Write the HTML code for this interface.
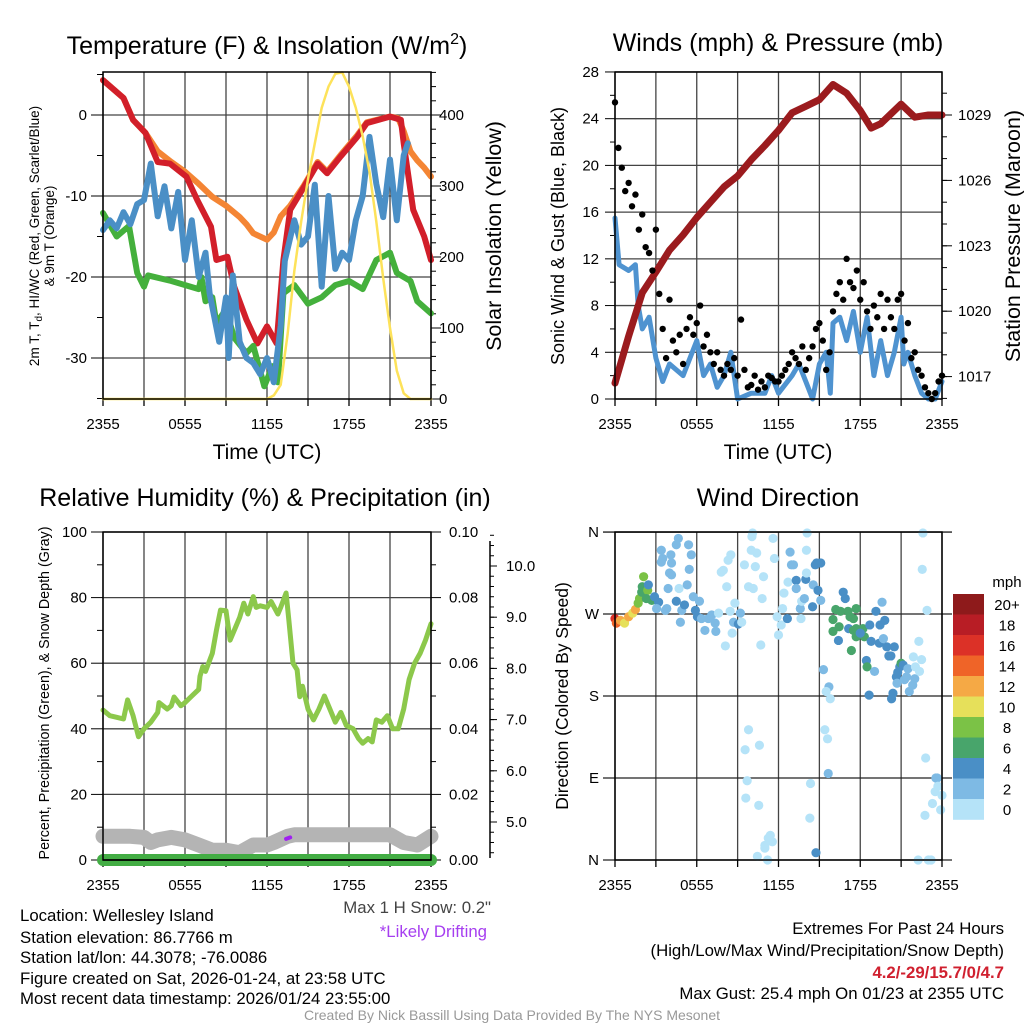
<!DOCTYPE html>
<html><head><meta charset="utf-8"><style>
html,body{margin:0;padding:0;background:#fff;}
svg{display:block;font-family:"Liberation Sans",Arial,sans-serif;}
</style></head><body>
<svg id="fig" width="1024" height="1024" viewBox="0 0 1024 1024" xmlns="http://www.w3.org/2000/svg">
<rect x="0" y="0" width="1024" height="1024" fill="#fff"/>
<g font-size="25" text-anchor="middle" fill="#000">
<text x="267" y="54">Temperature (F) &amp; Insolation (W/m<tspan font-size="16" dy="-10">2</tspan><tspan dy="10">)</tspan></text>
<text x="778" y="51">Winds (mph) &amp; Pressure (mb)</text>
<text x="265" y="506">Relative Humidity (%) &amp; Precipitation (in)</text>
<text x="778" y="506">Wind Direction</text>
</g>
<g font-size="21" text-anchor="middle">
<text x="267" y="459">Time (UTC)</text>
<text x="778" y="459">Time (UTC)</text>
<text font-size="21.5" transform="translate(501,236) rotate(-90)">Solar Insolation (Yellow)</text>
<text font-size="21.5" transform="translate(1020,236) rotate(-90)">Station Pressure (Maroon)</text>
</g>
<text transform="translate(564,236) rotate(-90)" font-size="18" text-anchor="middle">Sonic Wind &amp; Gust (Blue, Black)</text>
<text transform="translate(568,696) rotate(-90)" font-size="17.5" text-anchor="middle">Direction (Colored By Speed)</text>
<text transform="translate(39,236) rotate(-90)" font-size="13.5" text-anchor="middle">2m T, T<tspan font-size="10" dy="3">d</tspan><tspan dy="-3">, HI/WC (Red, Green, Scarlet/Blue)</tspan></text>
<text transform="translate(54,236) rotate(-90)" font-size="13.5" text-anchor="middle">&amp; 9m T (Orange)</text>
<text transform="translate(49,693) rotate(-90)" font-size="14.3" text-anchor="middle">Percent, Precipitation (Green), &amp; Snow Depth (Gray)</text>
<g font-size="16.8" fill="#000">
<text x="20" y="921">Location: Wellesley Island</text>
<text x="20" y="943">Station elevation: 86.7766 m</text>
<text x="20" y="963">Station lat/lon: 44.3078; -76.0086</text>
<text x="20" y="984">Figure created on Sat, 2026-01-24, at 23:58 UTC</text>
<text x="20" y="1004">Most recent data timestamp: 2026/01/24 23:55:00</text>
<text x="491" y="913" text-anchor="end" fill="#444">Max 1 H Snow: 0.2"</text>
<text x="487" y="937" text-anchor="end" fill="#a63ef0">*Likely Drifting</text>
<text x="1004" y="934" text-anchor="end">Extremes For Past 24 Hours</text>
<text x="1004" y="956" text-anchor="end">(High/Low/Max Wind/Precipitation/Snow Depth)</text>
<text x="1004" y="978" text-anchor="end" fill="#d0202f" font-weight="bold">4.2/-29/15.7/0/4.7</text>
<text x="1004" y="999" text-anchor="end">Max Gust: 25.4 mph On 01/23 at 2355 UTC</text>
</g>
<text x="512" y="1020" font-size="14" fill="#999" text-anchor="middle">Created By Nick Bassill Using Data Provided By The NYS Mesonet</text>
<g id="charts"></g>
</svg>
<script>
// ---- Panel 1 data ----
const redT=[0,1.5,2.2,3.1,4,4.9,6.1,6.9,7.9,8.3,9.1,9.6,10.5,11.3,12,12.7,13.2,13.7,14.7,15.7,16.4,17.4,18.6,19.3,21,21.8,22,22.7,23.5,24];
const redV=[4.3,2.1,-0.6,-2.2,-5.8,-6,-7.6,-10.5,-13.8,-17.9,-17.5,-21.2,-25.3,-28.2,-26.1,-28.2,-17.9,-11.7,-8.9,-6,-7.2,-5.1,-2.7,-1,-0.2,-0.6,-3.5,-11.7,-15,-17.9];
const orgT=[0,1.5,2.2,3.1,4,5,6,7,8,9,10,10.5,11,12,12.5,13,13.7,14.7,15.7,16.4,17.4,18.6,19.3,21,21.6,22,22.5,23,23.5,24];
const orgV=[4.3,2.1,-0.6,-2.2,-4.5,-5.8,-7,-8.5,-10.1,-11.2,-12.6,-13.5,-14.6,-15.4,-14.5,-12.5,-11.2,-8.7,-5.8,-7,-4.9,-2.5,-0.9,-0.2,-0.4,-2,-4.5,-5.6,-6.5,-7.6];
const grnT=[0,1,1.9,2.5,3,3.3,5,7,7.2,7.5,8,8.3,9,9.6,10.5,11,11.8,12.4,12.8,13.2,14,15,16,17,18,19,20,21,21.5,22.5,23,24];
const grnV=[-12.1,-15,-13.7,-19.5,-21.2,-19.8,-20.5,-21.5,-20,-23,-22.5,-25.7,-24,-27.5,-29.4,-28.5,-33.5,-31,-33,-22,-21,-23.3,-22.5,-21,-20.5,-21.5,-17.9,-17,-19.5,-20.5,-23,-24.5];
const bluT=[0,0.5,1,1.5,2,2.5,3,3.5,4,4.5,5,5.5,6,6.5,7,7.5,7.8,8.5,9,9.2,9.5,10,10.5,11,11.5,12,12.5,13,13.3,14,14.5,15,15.5,16,16.5,17,17.5,18,18.5,19,19.5,20,20.5,21,21.5,22,22.3];
const bluV=[-14.2,-13,-14,-12,-13.5,-11,-10.5,-6,-12.5,-8.8,-14,-9.5,-17.9,-13,-20,-17,-22,-28,-22.5,-30,-19.8,-28,-30,-30.6,-32,-30,-33,-26,-18,-13,-16,-15,-8.6,-21.2,-10,-19,-17,-17.9,-13,-10,-2.7,-8.5,-12.6,-5.5,-13,-5,-3.5];
const solT=[0,12,12.5,13,13.5,14,14.5,15,15.5,16,16.5,17,17.5,18,18.5,19,19.5,20,20.5,21,21.5,22,22.5,24];
const solV=[0,0,5,20,90,180,250,310,360,410,440,458,460,440,410,370,320,250,170,100,40,8,0,0];
const tempTicks=[0,-10,-20,-30];
const solTicks=[0,100,200,300,400];
const timeLabels=["2355","0555","1155","1755","2355"];
// ---- Panel 2 data ----
const presT=[0,1,2,3,4,5,6,7,8,9,10,11,12,13,14,15,16,17,18,18.8,19.5,20,21,21.5,22,23,24];
const presV=[1016.7,1018.85,1020.85,1021.8,1022.8,1023.5,1024.3,1025,1025.7,1026.2,1026.95,1027.6,1028.3,1029.1,1029.4,1029.7,1030.4,1030,1029.2,1028.4,1028.6,1028.9,1029.5,1029.2,1028.9,1029,1029];
const windT=[0,0.3,1,1.5,1.7,2,2.5,3,3.5,4,5,6,6.5,7,7.5,8,8.5,9,10,11,11.5,12,13,13.5,14,14.5,15,15.5,15.8,16,16.5,17,17.5,18,18.5,19,19.5,20,20.5,21,21.2,21.5,22,22.5,23,23.5,24];
const windV=[15.5,11.5,11,11.5,8,6,7,3.5,1.5,3,2,5,2,3,1,2,4,0,0.5,0.5,2,0.5,2,3,1.5,0,3,4,0.5,6.5,7,5,7.5,4,7,2,5,2,4,7,3,4,2,0.5,0,0,1.5];
const gustV=[25.4,21.5,19.8,17.8,18.5,16.5,17.5,14.5,15.8,13,12.5,11,14.5,9,6,3.5,8.5,5,4,5.5,3,6,7,5.5,6.5,8,4.5,5.5,4,3,4,2.5,2,3,2.5,3.5,2,6.8,2.5,1,1.2,2,0.8,1.5,1,2,1.8,1.5,1.5,2,2.5,3,4,3.5,3,4.5,2.5,3.5,4.5,6,6.5,5,2.5,4,7.5,9,10,8.5,12,10,9.5,11,8.5,10,7.5,6,8,7,9,6,8.5,7,6,8.5,9,5,6.5,3.5,4,2.5,2,1,0.5,0,0.5,1.5,2];
const windTicks=[0,4,8,12,16,20,24,28];
const presTicks=[1017,1020,1023,1026,1029];
// ---- Panel 3 data ----
const rhT=[0,0.5,1,1.5,1.8,2.2,2.6,3,3.5,4,4.1,4.7,5,5.2,5.7,6,6.5,7,7.1,7.3,7.5,8,8.3,8.6,9,9.3,9.7,10,10.3,10.6,11,11.2,11.5,12,12.3,12.8,13,13.4,13.6,13.9,14.2,14.4,14.6,15,15.4,15.8,16.2,16.6,17,17.4,17.8,18.3,18.7,19,19.4,19.7,20,20.4,20.8,21.2,21.6,22,22.4,22.8,23.2,23.6,24];
const rhV=[45.7,44,43.5,43,48.8,44,37.6,40,42,45,48,46,47,49.7,47,48,50,52,56,59,57.5,63,70,76.2,76,67,71,74,78.3,75,80.3,77,77.5,77,78.8,75,77,81.4,73,60,58,49.8,53,46,42.7,46,50,46,42,45,41,40,37,35.6,37,36,42.7,42,44,40,40,46,55,60,63,67,72];
const snowT=[0,1,2,3,3.5,4,5,6,7,8,9,10,11,12,12.5,13.5,14,15,16,17,18,19,20,21,22,23,24];
const snowV=[4.72,4.72,4.72,4.7,4.6,4.65,4.7,4.65,4.55,4.45,4.45,4.4,4.55,4.55,4.6,4.72,4.75,4.75,4.75,4.75,4.75,4.75,4.75,4.75,4.6,4.55,4.72];
const precT=[0,24];
const precV=[0,0];
const driftT=[13.4,13.7];
const driftV=[4.67,4.7];
const rhTicks=[0,20,40,60,80,100];
const precTicks=["0.00","0.02","0.04","0.06","0.08","0.10"];
const snowTicks=["5.0","6.0","7.0","8.0","9.0","10.0"];
// ---- Panel 4 data ----
const dirT=[0,0.1,0.4,0.7,1,1.3,1.5,1.7,1.8,2,2.1,1.96,2.4,2.3,2.7,2.45,2.9,3.2,3.05,3.4,3.5,3.4,3.7,3.8,4.1,4.15,4,4.15,3.9,4.5,4.65,4.5,4.7,4.9,4.8,5.1,5.3,5.4,5.6,5.45,5.75,5.9,6.05,6.2,6.35,6.6,6.85,7.1,7.35,7.4,7.6,7.8,7.95,8.3,8.5,8.2,8.45,8.7,8.8,9.05,9.2,9.3,8.6,8.1,9.5,9.8,10.15,10.3,10,10.1,10.05,10.4,10.8,10.9,10.7,11.6,11.7,11.9,12,12.2,12.3,12.4,12.65,12.7,12.85,12.95,13.1,13.3,13.3,13.6,13.65,13.7,13.9,14,14.05,14.1,14.05,14.5,14.55,14.7,14.8,14.9,15.1,15.1,15.3,15.7,15.5,15.8,15.4,15.6,15.65,14.75,14.35,14.3,9.8,10.6,9.55,9.7,9.6,10.55,11.4,11.25,11.55,11,11,10.45,11.2,16,16.2,16.45,16,16.4,16.75,16.9,16.55,17.1,17.25,17.5,17.7,17.15,17.5,17.7,17.35,17.7,18.2,18.3,18,18.45,18.5,18.7,18.8,19.05,19.15,19.4,19.45,19.6,19.7,19.8,19.95,20.1,20.25,20.4,20.5,20.65,20.7,20.75,20.9,21,21.15,21.25,21.4,21.5,21.6,21.85,21.9,22,22.05,22.3,22.35,22.5,18.65,20.3,22.6,22.55,22.9,22.8,23.55,23.65,23.7,23.5,24,23.3,22.75,23.9,22.25,23,23.2];
const dirV=[265,260,263,260,267,271,275,282,287,300,311,294,296,287,285,302,289,283,276,340,331,327,274,276,335,326,315,313,298,284,353,346,298,274,261,280,302,346,335,319,289,274,267,284,265,252,265,269,260,251,271,316,318,329,335,300,273,261,282,259,271,261,249,235,324,300,298,322,340,359,355,337,287,311,236,353,331,267,247,258,276,293,265,305,338,324,324,307,298,276,265,284,287,308,315,359,340,278,302,324,326,296,326,285,209,190,185,177,143,133,95,8,84,46,143,126,121,87,68,60,27,24,20,16,13,4,0,264,275,256,251,241,294,287,273,273,267,265,276,254,252,245,230,254,254,245,249,219,212,258,240,207,273,238,258,283,243,263,234,224,224,183,234,201,194,206,212,216,214,198,201,210,185,192,223,199,212,240,207,220,181,177,359,319,274,112,90,90,81,75,71,62,49,55,0,0,0];
const dirS=[17,15,13,11,13,11,13,9,9,7,9,7,9,7,7,5,5,5,3,3,3,3,3,3,3,3,3,3,3,5,3,3,1,3,3,5,3,3,3,3,3,5,5,3,3,3,3,3,3,3,1,1,1,1,1,1,1,3,1,5,3,1,1,1,1,1,1,1,1,1,1,1,1,1,1,1,1,1,1,1,1,1,5,1,3,3,3,5,3,3,1,1,3,5,1,1,1,5,3,5,5,5,5,3,3,3,1,1,1,1,3,5,1,1,1,1,1,1,1,1,1,1,1,1,1,1,1,7,7,7,7,5,5,5,7,7,7,7,7,5,7,7,7,7,7,7,5,5,7,5,5,3,5,5,5,3,3,5,5,5,5,5,5,5,3,5,5,7,5,3,3,3,3,3,1,3,1,1,1,1,5,5,1,1,1,1,3,3,1,1,1,1,1,1,1,1,1];
const dirTicks=["N","E","S","W","N"];
const speedLabels=["20+","18","16","14","12","10","8","6","4","2","0"];
const speedColors=["#b5e3f8","#7ebae4","#4a8fc6","#48a56b","#7bc246","#e6e05a","#f5a945","#ef6428","#dc3127","#b81d25","#8e1a1b"];

const NS="http://www.w3.org/2000/svg";
const root=document.getElementById('charts');
function mk(tag,attrs,name,parent){
  const el=document.createElementNS(NS,tag);
  for(const k in attrs) el.setAttribute(k,attrs[k]);
  
  
  (parent||root).appendChild(el);
  return el;
}
function txt(x,y,s,anchor,size,name,fill){
  const t=mk('text',{x:x,y:y,'text-anchor':anchor,'font-size':size,fill:fill||'#000'},name);
  t.textContent=s;return t;
}
function line(x1,y1,x2,y2,stroke,w,name){return mk('line',{x1:x1,y1:y1,x2:x2,y2:y2,stroke:stroke,'stroke-width':w},name);}
function poly(ts,vs,fx,fy,color,w,name){
  const pts=ts.map((t,i)=>fx(t).toFixed(1)+','+fy(vs[i]).toFixed(1)).join(' ');
  return mk('polyline',{points:pts,fill:'none',stroke:color,'stroke-width':w,'stroke-linejoin':'round','stroke-linecap':'round'},name);
}
const L=103,R=431,L2=615,R2=942;
function frame(x0,x1,y0,y1,prefix){
  for(let i=0;i<=8;i++){const x=x0+(x1-x0)*i/8;line(x,y0,x,y1,'#444',1.3,prefix+'-vgrid');line(x,y1,x,y1+7,'#000',1.3,prefix+'-xtick');}
  timeLabels.forEach((s,i)=>txt(x0+(x1-x0)*i/4,y1+30,s,'middle',15,prefix+'-xtick-label'));
}
function box(x0,x1,y0,y1,prefix){mk('rect',{x:x0,y:y0,width:x1-x0,height:y1-y0,fill:'none',stroke:'#000','stroke-width':1.5},prefix+'-plot-frame');}

// Panel 1
const x1f=t=>L+t*(R-L)/24, yT=v=>115-v*8.1, yS=s=>399-s*0.71;
frame(L,R,72,399,'temp');
tempTicks.forEach(v=>{line(L,yT(v),R,yT(v),'#444',1.3,'temp-hgrid');line(L-12,yT(v),L,yT(v),'#000',1,'temp-ytick');txt(L-16,yT(v)+5,String(v),'end',15,'temp-ytick-label');});
for(let v=-35;v<=5;v+=5){line(L-6,yT(v),L,yT(v),'#000',1,'temp-minor-tick');}
solTicks.forEach(v=>{line(R,yS(v),R+10,yS(v),'#000',1,'solar-ytick');txt(R+8,yS(v)+5,String(v),'start',15,'solar-ytick-label');});
for(let v=0;v<=460;v+=20){line(R,yS(v),R+5,yS(v),'#000',1,'solar-minor-tick');}
poly(orgT,orgV,x1f,yT,'#f48534',6,'series-9m-temp');
poly(redT,redV,x1f,yT,'#d21f2a',6,'series-2m-temp');
poly(grnT,grnV,x1f,yT,'#44b03c',6,'series-dewpoint');
poly(bluT,bluV,x1f,yT,'#4a8fc6',6,'series-windchill');
poly(solT,solV,x1f,yS,'#fde25a',2.5,'series-insolation');
box(L,R,72,399,'temp');

// Panel 2
const x2f=t=>L2+t*(R2-L2)/24, yW=w=>399-w*11.68, yP=p=>115-(p-1029)*21.8;
frame(L2,R2,72,399,'wind');
windTicks.forEach(v=>{line(L2,yW(v),R2,yW(v),'#444',1.3,'wind-hgrid');line(L2-10,yW(v),L2,yW(v),'#000',1,'wind-ytick');txt(L2-16,yW(v)+5,String(v),'end',15,'wind-ytick-label');});
for(let v=2;v<28;v+=4){line(L2-5,yW(v),L2,yW(v),'#000',1,'wind-minor-tick');}
presTicks.forEach(v=>{line(R2,yP(v),R2+10,yP(v),'#000',1,'pressure-ytick');txt(R2+16,yP(v)+5,String(v),'start',15,'pressure-ytick-label');});
for(let v=1016;v<=1030;v++){line(R2,yP(v),R2+5,yP(v),'#000',1,'pressure-minor-tick');}
poly(windT,windV,x2f,yW,'#4f93d0',5,'series-sonic-wind');
poly(presT,presV,x2f,yP,'#9b1b1e',7,'series-pressure');
gustV.forEach((g,i)=>{mk('circle',{cx:x2f(i*0.25),cy:yW(g),r:3.2,fill:'#000'},'gust-point');});
box(L2,R2,72,399,'wind');

// Panel 3
const yRH=r=>860-r*3.28, ySn=s=>822-(s-5)*51.2;
frame(L,R,532,860,'rh');
rhTicks.forEach(v=>{line(L,yRH(v),R,yRH(v),'#444',1.3,'rh-hgrid');line(L-12,yRH(v),L,yRH(v),'#000',1,'rh-ytick');txt(L-16,yRH(v)+5,String(v),'end',15,'rh-ytick-label');});
for(let v=10;v<100;v+=20){line(L-6,yRH(v),L,yRH(v),'#000',1,'rh-minor-tick');}
precTicks.forEach((s,i)=>{const y=yRH(i*20);line(R,y,R+10,y,'#000',1,'precip-ytick');txt(R+18,y+5,s,'start',15,'precip-ytick-label');});
for(let v=10;v<100;v+=20){line(R,yRH(v),R+5,yRH(v),'#000',1,'precip-minor-tick');}
line(490,541,490,858,'#000',1.5,'snow-axis-line');
snowTicks.forEach(s=>{const y=ySn(parseFloat(s));line(490,y,497,y,'#000',1,'snow-ytick');txt(506,y+5,s,'start',15,'snow-ytick-label');});
for(let v=4.4;v<=10.6;v+=0.2){line(490,ySn(v),494,ySn(v),'#000',1,'snow-minor-tick');}
poly(snowT,snowV,x1f,ySn,'#b4b4b4',15,'series-snow-depth');
poly(precT,precV,x1f,v=>860-v*3280,'#43ad44',12,'series-precipitation');
line(L,860,R,860,'#000',1.5,'rh-zero-line');
poly(driftT,driftV,x1f,ySn,'#a020f0',4,'drifting-mark');
poly(rhT,rhV,x1f,yRH,'#8cc84b',5,'series-humidity');
box(L,R,532,860,'rh');

// Panel 4
const yD=d=>860-d*0.911;
frame(L2,R2,532,860,'dir');
dirTicks.forEach((s,i)=>{const y=yD(i*90);line(L2-12,y,R2+10,y,'#222',1.3,'dir-hgrid');txt(L2-16,y+5,s,'end',15,'dir-ytick-label');});
dirT.forEach((t,i)=>{const b=Math.min(10,Math.floor(dirS[i]/2));mk('circle',{cx:x2f(t),cy:yD(dirV[i]),r:4.6,fill:speedColors[b]},'direction-point');});
box(L2,R2,532,860,'dir');
txt(1007,587,'mph','middle',15,'colorbar-title');
speedLabels.forEach((s,i)=>{const y=594+i*20.5;mk('rect',{x:953,y:y,width:31,height:20.8,fill:speedColors[10-i]},'colorbar-bin');txt(1007,y+16,s,'middle',15,'colorbar-label');});
</script>
</body></html>
